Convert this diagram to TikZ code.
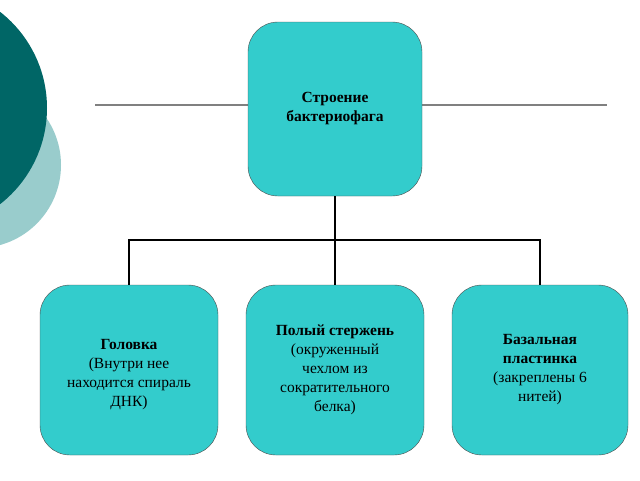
\documentclass[tikz,border=0pt]{standalone}
\usepackage{fontspec}
\setmainfont{Liberation Serif}
\begin{document}
\begin{tikzpicture}[x=1pt,y=-1pt,
 box/.style={draw=black!70,fill={rgb,255:red,51;green,204;blue,204},rounded corners=30pt,inner sep=0pt,align=center,font=\fontsize{15.5}{19}\selectfont},
 conn/.style={line width=2pt,black}]
\useasboundingbox (0,0) rectangle (640,480);
\fill[fill={rgb,255:red,153;green,204;blue,204}] (-22,165) circle (83);
\fill[fill={rgb,255:red,0;green,102;blue,102}] (-75,108) circle (122);
\draw[gray,line width=1.2pt] (95,105) -- (607,105);
\node[box,minimum width=174pt,minimum height=174pt] (top) at (335,109) {\textbf{Строение}\\\textbf{бактериофага}};
\node[box,minimum width=178pt,minimum height=170pt,text depth=0pt] (a) at (129,370) {\raisebox{22pt}{\parbox{178pt}{\centering\textbf{Головка}\\(Внутри нее\\находится спираль\\ДНК)}}};
\node[box,minimum width=178pt,minimum height=170pt] (b) at (335,370) {\textbf{Полый стержень}\\(окруженный\\чехлом из\\сократительного\\белка)};
\node[box,minimum width=176pt,minimum height=170pt] (c) at (540,370) {\raisebox{20pt}{\parbox{176pt}{\centering\textbf{Базальная}\\\textbf{пластинка}\\(закреплены 6\\нитей)}}};
\coordinate (j) at (335,240);
\draw[conn] (top.south) -- (j);
\draw[conn] (a.north) -- (a.north |- j) -- (c.north |- j) -- (c.north);
\draw[conn] (j) -- (b.north);
\end{tikzpicture}
\end{document}
